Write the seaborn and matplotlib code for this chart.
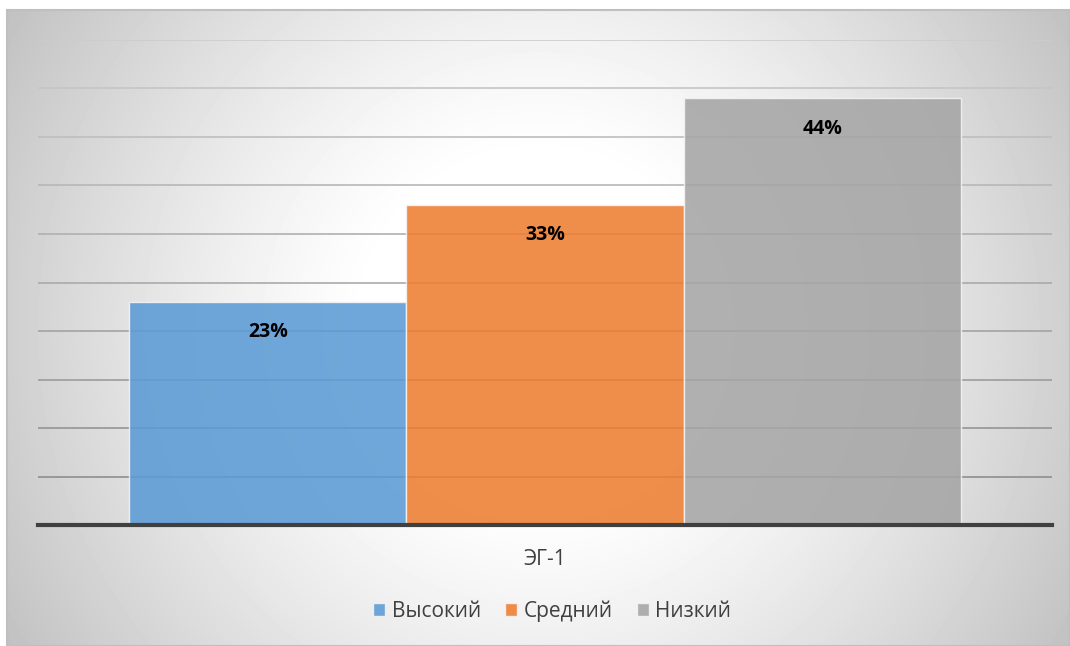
import numpy as np
import pandas as pd
import matplotlib
matplotlib.use("Agg")
import matplotlib.pyplot as plt
import seaborn as sns

# ---- data ----
groups = ["ЭГ-1"]
levels = ["Высокий", "Средний", "Низкий"]
values = [23, 33, 44]
value_labels = ["23%", "33%", "44%"]
yticks = [0, 5, 10, 15, 20, 25, 30, 35, 40, 45, 50]
colors = ["#5B9BD5", "#ED7D31", "#A5A5A5"]

df = pd.DataFrame({"group": groups * len(levels), "level": levels, "value": values})

sns.set_theme(style="white")
plt.rcParams["font.family"] = ["Open Sans", "Noto Sans", "DejaVu Sans"]

W, H = 1070, 646
fig = plt.figure(figsize=(W / 100, H / 100), dpi=100)
fig.patch.set_facecolor("white")

# ---- chart area background with radial gradient ----
bw, bh = 1063, 636
bg = fig.add_axes([7 / W, 0, bw / W, bh / H])
yy, xx = np.mgrid[0:bh, 0:bw]
r = np.hypot(xx - bw / 2, yy - bh / 2)
v = 255 - np.clip((r - 170) / 450, 0, 1) ** 1.2 * 62
bg.imshow(v, cmap="gray", vmin=0, vmax=255, aspect="auto",
          extent=[0, bw, bh, 0], interpolation="bilinear")
bg.set_xticks([])
bg.set_yticks([])
for s in bg.spines.values():
    s.set_color("#bfbfbf")
    s.set_linewidth(1.5)

# ---- main plot ----
ax = fig.add_axes([38 / W, (H - 525) / H, 1014 / W, 485 / H])
ax.set_facecolor("none")
sns.barplot(data=df, x="group", y="value", hue="level", hue_order=levels,
            palette=colors, width=0.82, alpha=0.88, edgecolor="#f4f4f4",
            linewidth=1, ax=ax, saturation=1)
ax.set_xlim(-0.5, 0.5)
ax.set_ylim(0, 50)
ax.set_yticks(yticks)
ax.set_xlabel("")
ax.set_ylabel("")
ax.tick_params(axis="y", length=0, labelleft=False)
ax.tick_params(axis="x", length=0, pad=17, labelsize=15, labelcolor="#404040")
ax.set_axisbelow(True)
ax.yaxis.grid(True, linewidth=1.2)
glines = ax.get_ygridlines()
greys = np.linspace(0x88, 0xcc, len(glines))
for gl, g in zip(glines, greys):
    gi = int(g)
    gl.set_color(f"#{gi:02x}{gi:02x}{gi:02x}")
for side in ["left", "right", "top"]:
    ax.spines[side].set_visible(False)
ax.spines["bottom"].set_color("#404040")
ax.spines["bottom"].set_linewidth(3)

# ---- data labels ----
for cont, lab in zip(ax.containers, value_labels):
    for bar in cont:
        ax.annotate(lab, (bar.get_x() + bar.get_width() / 2, bar.get_height()),
                    xytext=(0, -22), textcoords="offset points",
                    ha="center", va="center", fontsize=14, fontweight="bold",
                    color="black")

# ---- legend ----
sns.move_legend(ax, "center", bbox_to_anchor=(0.507, -0.177), ncol=3,
                frameon=False, title=None, fontsize=15,
                handlelength=0.6, handleheight=0.6, handletextpad=0.3,
                columnspacing=1.15)
for t in ax.get_legend().get_texts():
    t.set_color("#404040")

fig.savefig("out.png", dpi=100, facecolor="white")
